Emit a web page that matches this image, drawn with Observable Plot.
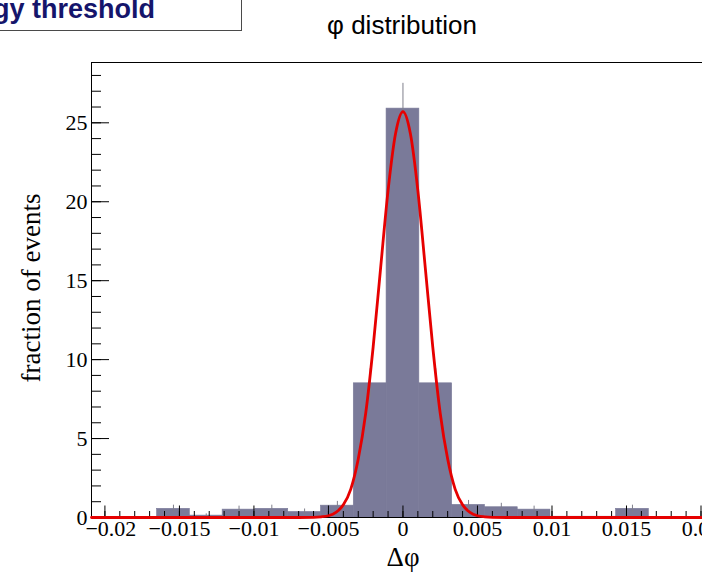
<!DOCTYPE html>
<html><head><meta charset="utf-8">
<script src="https://cdn.jsdelivr.net/npm/d3@7"></script>
<script src="https://cdn.jsdelivr.net/npm/@observablehq/plot@0.6"></script>
<style>
html,body{margin:0;padding:0;background:#fff;overflow:hidden;width:702px;height:573px;}
#wrap{position:relative;width:702px;height:573px;overflow:hidden;}
#wrap svg{position:absolute;left:0;top:0;}
.box{position:absolute;left:-10px;top:-10px;width:252px;height:41px;box-sizing:border-box;border:1.5px solid #4a4a4a;background:#fff;}
.boxtext{position:absolute;left:0;top:-4px;width:155px;height:30px;display:flex;justify-content:flex-end;white-space:nowrap;font:bold 27px "Liberation Sans",Arial,sans-serif;color:#15156b;line-height:27px;}
.title{position:absolute;left:297px;width:210px;top:12px;text-align:center;font:26px "Liberation Sans",Arial,sans-serif;color:#000;line-height:26px;}
.ylab{position:absolute;left:31px;top:288px;transform:translate(-50%,-50%) rotate(-90deg);white-space:nowrap;font:27px "Liberation Serif","Times New Roman",serif;color:#000;line-height:27px;}
.xlab{position:absolute;left:353px;width:100px;top:544px;text-align:center;font:27px "Liberation Serif","Times New Roman",serif;color:#000;line-height:27px;}
</style></head><body><div id="wrap"></div>
<script>
// histogram bins (edges), heights and errors
const binEdges = [-0.0209, -0.0187, -0.0165, -0.0143, -0.0121, -0.0099, -0.0077, -0.0055, -0.0033, -0.0011,
                  0.0011, 0.0033, 0.0055, 0.0077, 0.0099, 0.0121, 0.0143, 0.0165, 0.0187, 0.0209];
const binHeights = [0, 0, 0.55, 0.12, 0.5, 0.55, 0.35, 0.75, 8.5, 25.9, 8.5, 0.8, 0.65, 0.5, 0.05, 0.05, 0.55, 0, 0];
const binErrors  = [0, 0, 0.23, 0.11, 0.22, 0.23, 0.19, 0.27, 0.92, 1.6, 0.92, 0.28, 0.25, 0.22, 0, 0, 0.23, 0, 0];
// fitted curve
const fitX = [-0.0209, -0.008, -0.007, -0.006, -0.0055, -0.005, -0.0045, -0.004, -0.0035, -0.003, -0.0025, -0.002, -0.0015, -0.001, -0.0005, 0,
              0.0005, 0.001, 0.0015, 0.002, 0.0025, 0.003, 0.0035, 0.004, 0.0045, 0.005, 0.0055, 0.006, 0.007, 0.008, 0.0201];
const fitY = [0, 0, 0, 0.01, 0.04, 0.11, 0.32, 0.8, 1.8, 3.7, 6.6, 10.8, 15.8, 20.7, 24.3, 25.7,
              24.3, 20.7, 15.8, 10.8, 6.6, 3.7, 1.8, 0.8, 0.32, 0.11, 0.04, 0.01, 0, 0, 0];
const xMajorTicks = [-0.02, -0.015, -0.01, -0.005, 0, 0.005, 0.01, 0.015, 0.02];
const xMinorTicks = d3.range(-20, 21).map(i => i / 1000);
const yMajorTicks = [0, 5, 10, 15, 20, 25];
const yMinorTicks = d3.range(0, 29);

const W = 702, H = 573, mL = 91, mR = 0, mT = 62, mB = 56;
const xDom = [-0.0209, 0.0201], yDom = [0, 28.82];
const pxX = (W - mL - mR) / (xDom[1] - xDom[0]);
const pxY = (H - mT - mB) / (yDom[1] - yDom[0]);

const bins = binHeights.map((h, i) => ({x1: binEdges[i], x2: binEdges[i + 1], xc: (binEdges[i] + binEdges[i + 1]) / 2, h, e: binErrors[i]}));
const fit = fitX.map((x, i) => ({x, y: fitY[i]}));
const fmt = d => d === 0 ? "0" : (d < 0 ? "\u2212" : "") + String(Math.abs(d));
const serif = "Liberation Serif, Times New Roman, serif";

const chart = Plot.plot({
  width: W, height: H,
  marginLeft: mL, marginRight: mR, marginTop: mT, marginBottom: mB,
  x: {domain: xDom},
  y: {domain: yDom},
  style: {background: "transparent"},
  marks: [
    Plot.rectY(bins.filter(d => d.h > 0), {x1: "x1", x2: "x2", y1: 0, y2: "h", fill: "#7a7a99", stroke: "#7a7a99", strokeWidth: 0.6}),
    Plot.ruleX(bins.filter(d => d.e > 0), {x: "xc", y1: d => d.h - d.e, y2: d => d.h + d.e, stroke: "#7f7f8c", strokeWidth: 1}),
    // x ticks (inside)
    Plot.ruleX(xMinorTicks, {x: d => d, y1: 0, y2: 6 / pxY, stroke: "#000", strokeWidth: 1}),
    Plot.ruleX(xMajorTicks, {x: d => d, y1: 0, y2: 11.5 / pxY, stroke: "#000", strokeWidth: 1}),
    // y ticks (inside)
    Plot.ruleY(yMinorTicks, {y: d => d, x1: xDom[0], x2: xDom[0] + 10 / pxX, stroke: "#000", strokeWidth: 1}),
    Plot.ruleY(yMajorTicks, {y: d => d, x1: xDom[0], x2: xDom[0] + 18 / pxX, stroke: "#000", strokeWidth: 1}),
    // frame
    Plot.ruleY([yDom[0]], {stroke: "#000", strokeWidth: 1}),
    Plot.ruleY([yDom[1]], {stroke: "#000", strokeWidth: 1}),
    Plot.ruleX([xDom[0]], {stroke: "#000", strokeWidth: 1}),
    // fit
    Plot.line(fit, {x: "x", y: "y", stroke: "#e60000", strokeWidth: 2.8, curve: "monotone-x"}),
    Plot.axisX({ticks: xMajorTicks.slice(0, 1), tickSize: 0, tickPadding: 3, dx: 6, tickFormat: fmt, fontSize: 22, fontFamily: serif, fill: "#000", label: null}),
    Plot.axisX({ticks: xMajorTicks.slice(1), tickSize: 0, tickPadding: 3, tickFormat: fmt, fontSize: 22, fontFamily: serif, fill: "#000", label: null}),
    Plot.axisY({ticks: yMajorTicks, tickSize: 0, tickPadding: 4, tickFormat: d => String(d), fontSize: 22, fontFamily: serif, fill: "#000", label: null})
  ]
});
const wrap = document.getElementById("wrap");
wrap.appendChild(chart);

function addDiv(cls, html) { const d = document.createElement("div"); d.className = cls; d.innerHTML = html; wrap.appendChild(d); return d; }
addDiv("box", "");
addDiv("boxtext", "<span>gy threshold</span>");
addDiv("title", "\u03c6 distribution");
addDiv("ylab", "fraction of events");
addDiv("xlab", "\u0394\u03c6");
</script>
</body></html>
